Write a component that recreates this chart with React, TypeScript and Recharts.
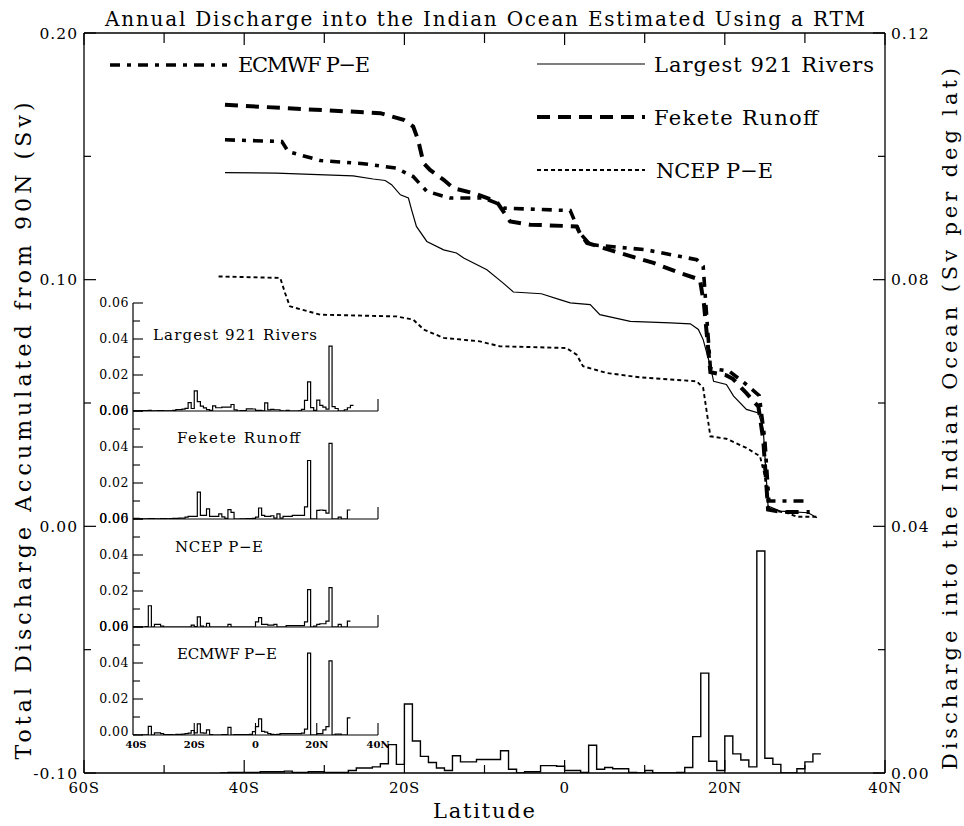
import React from 'react';
import { ComposedChart, LineChart, Line, XAxis, YAxis } from 'recharts';

// ---------- data ----------

// Left edges of the 1-degree latitude bins (negative = south); the last entry closes the final bin.
const BIN_LAT = [
  -43, -42, -41, -40, -39, -38, -37, -36, -35, -34, -33, -32, -31, -30, -29, -28, -27, -26, -25, -24,
  -23, -22, -21, -20, -19, -18, -17, -16, -15, -14, -13, -12, -11, -10, -9, -8, -7, -6, -5, -4,
  -3, -2, -1, 0, 1, 2, 3, 4, 5, 6, 7, 8, 9, 10, 11, 12, 13, 14, 15, 16,
  17, 18, 19, 20, 21, 22, 23, 24, 25, 26, 27, 28, 29, 30, 31, 32,
];

// Discharge per degree of latitude (Sv per deg lat)
const RIVERS_PER_DEG = [
  0.0000, 0.0001, 0.0001, 0.0001, 0.0001, 0.0002, 0.0002, 0.0002, 0.0003, 0.0001, 0.0001, 0.0002, 0.0002, 0.0001, 0.0001, 0.0001, 0.0004, 0.0008, 0.0008, 0.0010,
  0.0015, 0.0046, 0.0014, 0.0112, 0.0052, 0.0027, 0.0017, 0.0008, 0.0004, 0.0028, 0.0018, 0.0018, 0.0022, 0.0022, 0.0022, 0.0036, 0.0006, 0.0000, 0.0002, 0.0002,
  0.0012, 0.0012, 0.0011, 0.0004, 0.0004, 0.0001, 0.0045, 0.0006, 0.0009, 0.0007, 0.0007, 0.0001, 0.0000, 0.0004, 0.0000, 0.0000, 0.0000, 0.0001, 0.0009, 0.0059,
  0.0162, 0.0019, 0.0004, 0.0060, 0.0031, 0.0021, 0.0010, 0.0360, 0.0024, 0.0014, 0.0000, 0.0000, 0.0007, 0.0018, 0.0031,
];

const FEKETE_PER_DEG = [
  0.0001, 0.0001, 0.0001, 0.0003, 0.0003, 0.0001, 0.0001, 0.0001, 0.0002, 0.0002, 0.0001, 0.0001, 0.0002, 0.0002, 0.0001, 0.0002, 0.0003, 0.0003, 0.0005, 0.0005,
  0.0010, 0.0015, 0.0015, 0.0015, 0.0149, 0.0020, 0.0020, 0.0056, 0.0015, 0.0015, 0.0015, 0.0028, 0.0012, 0.0004, 0.0052, 0.0037, 0.0000, 0.0000, 0.0001, 0.0001,
  0.0002, 0.0002, 0.0003, 0.0010, 0.0061, 0.0020, 0.0015, 0.0015, 0.0018, 0.0005, 0.0028, 0.0005, 0.0015, 0.0015, 0.0015, 0.0020, 0.0020, 0.0020, 0.0020, 0.0067,
  0.0325, 0.0000, 0.0000, 0.0048, 0.0050, 0.0048, 0.0033, 0.0420, 0.0000, 0.0000, 0.0010, 0.0000, 0.0000, 0.0050,
];

const NCEP_PER_DEG = [
  0.0003, 0.0001, 0.0000, 0.0000, 0.0001, 0.0000, 0.0000, 0.0002, 0.0118, 0.0000, 0.0015, 0.0015, 0.0005, 0.0000, 0.0000, 0.0000, 0.0000, 0.0000, 0.0000, 0.0000,
  0.0000, 0.0000, 0.0010, 0.0002, 0.0056, 0.0005, 0.0000, 0.0020, 0.0000, 0.0000, 0.0000, 0.0000, 0.0000, 0.0000, 0.0015, 0.0000, 0.0000, 0.0000, 0.0000, 0.0000,
  0.0000, 0.0000, 0.0000, 0.0028, 0.0052, 0.0015, 0.0015, 0.0010, 0.0010, 0.0015, 0.0000, 0.0000, 0.0000, 0.0008, 0.0008, 0.0008, 0.0008, 0.0008, 0.0008, 0.0028,
  0.0208, 0.0000, 0.0005, 0.0015, 0.0018, 0.0018, 0.0033, 0.0219, 0.0000, 0.0000, 0.0015, 0.0000, 0.0000, 0.0033,
];

const ECMWF_PER_DEG = [
  0.0001, 0.0001, 0.0001, 0.0001, 0.0000, 0.0000, 0.0001, 0.0001, 0.0048, 0.0000, 0.0012, 0.0012, 0.0008, 0.0002, 0.0002, 0.0002, 0.0001, 0.0003, 0.0003, 0.0005,
  0.0008, 0.0010, 0.0025, 0.0012, 0.0062, 0.0012, 0.0010, 0.0028, 0.0002, 0.0000, 0.0000, 0.0000, 0.0002, 0.0002, 0.0042, 0.0000, 0.0002, 0.0002, 0.0002, 0.0002,
  0.0002, 0.0003, 0.0019, 0.0046, 0.0090, 0.0020, 0.0016, 0.0008, 0.0004, 0.0002, 0.0004, 0.0008, 0.0008, 0.0008, 0.0008, 0.0008, 0.0008, 0.0008, 0.0010, 0.0033,
  0.0455, 0.0000, 0.0000, 0.0008, 0.0008, 0.0028, 0.0046, 0.0412, 0.0000, 0.0005, 0.0005, 0.0000, 0.0000, 0.0095,
];

// Total discharge accumulated from 90N (Sv)
const RIVERS_CUM_LAT = [-42.4, -36.0, -26.4, -23.9, -22.4, -21.6, -20.5, -19.5, -19.1, -18.5, -17.2, -15.1, -13.5, -12.6, -9.7, -7.7, -6.4, -2.9, -0.6, 0.7, 3.2, 4.4, 8.2, 13.2, 15.7, 16.7, 17.3, 18.2, 18.6, 20.2, 21.1, 22.7, 24.2, 24.8, 25.4, 26.9, 30.4, 31.5];
const RIVERS_CUM = [0.1434, 0.1432, 0.1421, 0.1408, 0.1402, 0.1385, 0.1344, 0.1331, 0.1283, 0.1216, 0.1155, 0.1121, 0.1108, 0.1088, 0.1040, 0.0987, 0.0950, 0.0943, 0.0919, 0.0906, 0.0899, 0.0858, 0.0831, 0.0825, 0.0821, 0.0798, 0.0757, 0.0649, 0.0588, 0.0575, 0.0528, 0.0474, 0.0460, 0.0393, 0.0082, 0.0062, 0.0055, 0.0035];

const FEKETE_CUM_LAT = [-42.4, -34.7, -23.0, -20.1, -18.9, -18.3, -17.6, -16.8, -15.1, -13.9, -11.4, -8.5, -6.8, -4.3, 1.5, 1.9, 2.8, 6.9, 11.1, 14.4, 16.9, 17.4, 18.2, 20.2, 21.0, 22.7, 24.2, 24.8, 25.4, 27.0, 30.6];
const FEKETE_CUM = [0.1709, 0.1695, 0.1675, 0.1648, 0.1621, 0.1567, 0.1472, 0.1445, 0.1405, 0.1371, 0.1351, 0.1317, 0.1236, 0.1223, 0.1216, 0.1189, 0.1149, 0.1108, 0.1068, 0.1027, 0.1000, 0.0900, 0.0625, 0.0612, 0.0598, 0.0540, 0.0485, 0.0350, 0.0068, 0.0058, 0.0058];

const ECMWF_CUM_LAT = [-42.4, -35.3, -34.5, -30.5, -25.1, -21.0, -18.9, -17.2, -14.3, -10.1, -8.5, -7.6, 0.7, 1.9, 3.2, 10.2, 16.5, 17.3, 18.2, 20.5, 22.5, 24.3, 25.0, 25.5, 30.6];
const ECMWF_CUM = [0.1567, 0.1560, 0.1519, 0.1483, 0.1470, 0.1452, 0.1418, 0.1358, 0.1331, 0.1331, 0.1310, 0.1290, 0.1280, 0.1189, 0.1142, 0.1121, 0.1081, 0.1054, 0.0640, 0.0630, 0.0580, 0.0530, 0.0350, 0.0103, 0.0103];

const NCEP_CUM_LAT = [-43.2, -35.5, -34.9, -34.3, -30.5, -21.0, -18.9, -17.6, -15.1, -10.6, -8.1, 0.2, 1.5, 2.3, 5.2, 9.4, 16.5, 17.3, 18.2, 20.2, 22.7, 24.4, 25.0, 25.4, 27.7, 29.0, 31.5];
const NCEP_CUM = [0.1013, 0.1007, 0.0946, 0.0892, 0.0858, 0.0851, 0.0838, 0.0798, 0.0764, 0.0750, 0.0730, 0.0723, 0.0696, 0.0649, 0.0622, 0.0604, 0.0588, 0.0561, 0.0365, 0.0355, 0.0318, 0.0284, 0.0203, 0.0069, 0.0055, 0.0039, 0.0039];

// Axis ticks
const MAIN_LAT_TICKS = [-60, -50, -40, -30, -20, -10, 0, 10, 20, 30, 40];
const LEFT_TICKS = [-0.1, -0.05, 0, 0.05, 0.1, 0.15, 0.2];
const RIGHT_TICKS = [0, 0.02, 0.04, 0.06, 0.08, 0.1, 0.12];
const INSET_Y_TICKS = [0, 0.01, 0.02, 0.03, 0.04, 0.05, 0.06];
const INSET_LAT_LABELS = [-40, -20, 0, 20, 40];

// Text
const TITLE = 'Annual Discharge into the Indian Ocean Estimated Using a RTM';
const X_TITLE = 'Latitude';
const LEFT_TITLE = 'Total Discharge Accumulated from 90N (Sv)';
const RIGHT_TITLE = 'Discharge into the Indian Ocean (Sv per deg lat)';
const NAME_RIVERS = 'Largest 921 Rivers';
const NAME_FEKETE = 'Fekete Runoff';
const NAME_NCEP = 'NCEP P\u2212E';
const NAME_ECMWF = 'ECMWF P\u2212E';

// ---------- helpers ----------

const FONT = "'DejaVu Serif', serif";
const INK = '#000';

const pairs = (lat: number[], val: number[]) => lat.map((x, i) => ({ lat: x, v: val[i] }));

// Step-outline points for a per-degree series, starting at a given latitude.
const stepPoints = (vals: number[], from: number) => {
  const pts: { lat: number; v: number }[] = [];
  vals.forEach((v, i) => {
    if (BIN_LAT[i] >= from) pts.push({ lat: BIN_LAT[i], v });
  });
  pts.push({ lat: BIN_LAT[vals.length], v: vals[vals.length - 1] });
  return pts;
};

const isMultiple = (v: number, step: number) => Math.abs(v / step - Math.round(v / step)) < 1e-6;
const latLabel = (v: number) => (v < 0 ? `${-v}S` : v > 0 ? `${v}N` : '0');

// Line styles
const STYLE_RIVERS = { strokeWidth: 1.2 };
const STYLE_FEKETE = { strokeWidth: 4, strokeDasharray: '13 8' };
const STYLE_ECMWF = { strokeWidth: 3.6, strokeDasharray: '10 7 4 7' };
const STYLE_NCEP = { strokeWidth: 1.9, strokeDasharray: '4 3' };

// ---------- tick renderers ----------

const LeftTick = (p: any) => {
  const { x, y, payload } = p;
  const v = payload.value;
  const major = isMultiple(v, 0.1);
  return (
    <g>
      <line x1={x} x2={x + (major ? 12 : 7)} y1={y} y2={y} stroke={INK} strokeWidth={1.2} />
      {major && (
        <text x={x - 6} y={y} dy="0.36em" textAnchor="end" fontFamily={FONT} fontSize={15.5} letterSpacing={1} fill={INK}>
          {v.toFixed(2)}
        </text>
      )}
    </g>
  );
};

const RightTick = (p: any) => {
  const { x, y, payload } = p;
  const v = payload.value;
  const major = isMultiple(v, 0.04);
  return (
    <g>
      <line x1={x} x2={x - (major ? 12 : 7)} y1={y} y2={y} stroke={INK} strokeWidth={1.2} />
      {major && (
        <text x={x + 6} y={y} dy="0.36em" textAnchor="start" fontFamily={FONT} fontSize={15.5} letterSpacing={1} fill={INK}>
          {v.toFixed(2)}
        </text>
      )}
    </g>
  );
};

const BottomTick = (p: any) => {
  const { x, y, payload } = p;
  const v = payload.value;
  const major = isMultiple(v, 20);
  return (
    <g>
      <line x1={x} x2={x} y1={y} y2={y - (major ? 13 : 8)} stroke={INK} strokeWidth={1.2} />
      {major && (
        <text x={x} y={y + 20} textAnchor="middle" fontFamily={FONT} fontSize={15} letterSpacing={0.5} fill={INK}>
          {latLabel(v)}
        </text>
      )}
    </g>
  );
};

const TopTick = (p: any) => {
  const { x, y, payload } = p;
  const major = isMultiple(payload.value, 20);
  return <line x1={x} x2={x} y1={y} y2={y + (major ? 12 : 10)} stroke={INK} strokeWidth={1.2} />;
};

const InsetYTick = (p: any) => {
  const { x, y, payload, raiseZero } = p;
  const v = payload.value;
  const major = isMultiple(v, 0.02);
  // In the bottom panel the zero label sits a touch higher so it clears the latitude labels.
  const dy = raiseZero && v === 0 ? '0.05em' : '0.33em';
  return (
    <g>
      <line x1={x} x2={x + (major ? 10 : 7)} y1={y} y2={y} stroke={INK} strokeWidth={1.1} />
      {major && (
        <text x={x - 4} y={y} dy={dy} textAnchor="end" fontFamily={FONT} fontSize={12.5} letterSpacing={0.5} fill={INK}>
          {v.toFixed(2)}
        </text>
      )}
    </g>
  );
};

const InsetXTick = (p: any) => {
  const { x, y, payload, showLabels } = p;
  const v = payload.value;
  return (
    <g>
      {v > -40 && <line x1={x} x2={x} y1={y} y2={y - 12} stroke={INK} strokeWidth={1.1} />}
      {showLabels && (
        <text x={v === -40 ? x + 3 : x} y={y + 13} textAnchor="middle" fontFamily={FONT} fontWeight="bold" fontSize={10} fill={INK}>
          {latLabel(v)}
        </text>
      )}
    </g>
  );
};

// ---------- inset panels ----------

const INSET_W = 400;
const INSET_H = 150;
const INSET_TOP_MARGIN = 16;

type InsetProps = { values: number[]; plotTop: number; showLabels: boolean };

const InsetPanel = ({ values, plotTop, showLabels }: InsetProps) => (
  <div style={{ position: 'absolute', left: 0, top: plotTop - INSET_TOP_MARGIN }}>
    <LineChart width={INSET_W} height={INSET_H} margin={{ top: INSET_TOP_MARGIN, right: 22, bottom: 6, left: 93 }}>
      <XAxis
        type="number"
        dataKey="lat"
        domain={[-40, 40]}
        ticks={showLabels ? INSET_LAT_LABELS : [40]}
        interval={0}
        allowDataOverflow
        height={20}
        tickSize={0}
        tickMargin={0}
        tickLine={false}
        axisLine={{ stroke: INK, strokeWidth: 1.2 }}
        tick={<InsetXTick showLabels={showLabels} />}
      />
      <YAxis
        type="number"
        domain={[0, 0.06]}
        ticks={INSET_Y_TICKS}
        interval={0}
        allowDataOverflow
        width={40}
        tickSize={0}
        tickMargin={0}
        tickLine={false}
        axisLine={{ stroke: INK, strokeWidth: 1.2 }}
        tick={<InsetYTick raiseZero={showLabels} />}
      />
      <Line
        data={stepPoints(values, -40)}
        dataKey="v"
        type="stepAfter"
        stroke={INK}
        strokeWidth={1.2}
        dot={false}
        activeDot={false}
        isAnimationActive={false}
      />
    </LineChart>
  </div>
);

// ---------- chart ----------

export default function App() {
  const common = { dot: false as const, activeDot: false as const, isAnimationActive: false, stroke: INK, type: 'linear' as const, strokeLinecap: 'butt' as const };

  return (
    <div style={{ position: 'absolute', left: 0, top: 0, width: 964, height: 826, background: '#fff', overflow: 'hidden' }}>
      <div style={{ position: 'absolute', left: 0, top: 0 }}>
        <ComposedChart width={964} height={826} margin={{ top: 3, right: 39, bottom: 23, left: 44 }}>
          <XAxis
            xAxisId="bottom"
            type="number"
            dataKey="lat"
            domain={[-60, 40]}
            ticks={MAIN_LAT_TICKS}
            interval={0}
            allowDataOverflow
            height={30}
            tickSize={0}
            tickMargin={0}
            tickLine={false}
            axisLine={{ stroke: INK, strokeWidth: 1.3 }}
            tick={<BottomTick />}
          />
          <XAxis
            xAxisId="top"
            orientation="top"
            type="number"
            dataKey="lat"
            domain={[-60, 40]}
            ticks={MAIN_LAT_TICKS}
            interval={0}
            allowDataOverflow
            height={30}
            tickSize={0}
            tickMargin={0}
            tickLine={false}
            axisLine={{ stroke: INK, strokeWidth: 1.3 }}
            tick={<TopTick />}
          />
          <YAxis
            yAxisId="left"
            type="number"
            domain={[-0.1, 0.2]}
            ticks={LEFT_TICKS}
            interval={0}
            allowDataOverflow
            width={40}
            tickSize={0}
            tickMargin={0}
            tickLine={false}
            axisLine={{ stroke: INK, strokeWidth: 1.3 }}
            tick={<LeftTick />}
          />
          <YAxis
            yAxisId="right"
            orientation="right"
            type="number"
            domain={[0, 0.12]}
            ticks={RIGHT_TICKS}
            interval={0}
            allowDataOverflow
            width={40}
            tickSize={0}
            tickMargin={0}
            tickLine={false}
            axisLine={{ stroke: INK, strokeWidth: 1.3 }}
            tick={<RightTick />}
          />

          <Line xAxisId="bottom" yAxisId="right" data={stepPoints(RIVERS_PER_DEG, -43)} dataKey="v" {...common} type="stepAfter" strokeWidth={1.4} />
          <Line xAxisId="bottom" yAxisId="left" data={pairs(RIVERS_CUM_LAT, RIVERS_CUM)} dataKey="v" {...common} {...STYLE_RIVERS} />
          <Line xAxisId="bottom" yAxisId="left" data={pairs(NCEP_CUM_LAT, NCEP_CUM)} dataKey="v" {...common} {...STYLE_NCEP} />
          <Line xAxisId="bottom" yAxisId="left" data={pairs(FEKETE_CUM_LAT, FEKETE_CUM)} dataKey="v" {...common} {...STYLE_FEKETE} />
          <Line xAxisId="bottom" yAxisId="left" data={pairs(ECMWF_CUM_LAT, ECMWF_CUM)} dataKey="v" {...common} {...STYLE_ECMWF} />
        </ComposedChart>
      </div>

      <InsetPanel values={RIVERS_PER_DEG} plotTop={303} showLabels={false} />
      <InsetPanel values={FEKETE_PER_DEG} plotTop={411} showLabels={false} />
      <InsetPanel values={NCEP_PER_DEG} plotTop={519} showLabels={false} />
      <InsetPanel values={ECMWF_PER_DEG} plotTop={627} showLabels={true} />

      <svg width={964} height={826} style={{ position: 'absolute', left: 0, top: 0, pointerEvents: 'none' }}>
        <g fontFamily={FONT} fill={INK}>
          <text x={105} y={26} fontSize={20} textLength={760} lengthAdjust="spacing">{TITLE}</text>
          <text x={433} y={818} fontSize={21} textLength={102} lengthAdjust="spacing">{X_TITLE}</text>
          <text transform="translate(31 431) rotate(-90)" textAnchor="middle" fontSize={22} textLength={657} lengthAdjust="spacing">{LEFT_TITLE}</text>
          <text transform="translate(957 419) rotate(-90)" textAnchor="middle" fontSize={21} textLength={702} lengthAdjust="spacing">{RIGHT_TITLE}</text>

          {/* legend */}
          <line x1={110} x2={227} y1={65} y2={65} stroke={INK} {...STYLE_ECMWF} />
          <text x={238} y={72} fontSize={21} textLength={132} lengthAdjust="spacing">{NAME_ECMWF}</text>
          <line x1={537} x2={645} y1={64} y2={64} stroke={INK} {...STYLE_RIVERS} />
          <text x={654} y={72} fontSize={21} textLength={220} lengthAdjust="spacing">{NAME_RIVERS}</text>
          <line x1={537} x2={645} y1={117} y2={117} stroke={INK} {...STYLE_FEKETE} />
          <text x={654} y={125} fontSize={21} textLength={164} lengthAdjust="spacing">{NAME_FEKETE}</text>
          <line x1={537} x2={645} y1={170} y2={170} stroke={INK} {...STYLE_NCEP} />
          <text x={656} y={178} fontSize={21} textLength={117} lengthAdjust="spacing">{NAME_NCEP}</text>

          {/* inset titles */}
          <text x={153} y={340} fontSize={15} textLength={164} lengthAdjust="spacing">{NAME_RIVERS}</text>
          <text x={177} y={443} fontSize={15} textLength={123} lengthAdjust="spacing">{NAME_FEKETE}</text>
          <text x={175} y={552} fontSize={15} textLength={88} lengthAdjust="spacing">{NAME_NCEP}</text>
          <text x={177} y={659} fontSize={15} textLength={100} lengthAdjust="spacing">{NAME_ECMWF}</text>
        </g>
      </svg>
    </div>
  );
}
